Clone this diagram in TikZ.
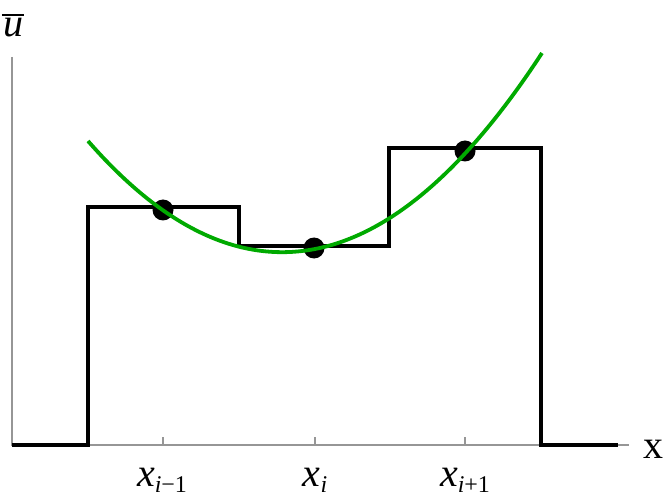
\documentclass[tikz,border=0pt]{standalone}
\usepackage{fontspec}
\setmainfont{Liberation Serif}
\newcommand{\lbsub}[1]{\raisebox{-6pt}{\fontsize{24}{24}\selectfont #1}}
\definecolor{curvegreen}{RGB}{0,170,0}
\definecolor{axisgray}{RGB}{150,150,150}
\begin{document}
\begin{tikzpicture}[x=1pt,y=-1pt,
  axisline/.style={draw=axisgray,line width=1.1pt},
  stepline/.style={draw=black,line width=3.6pt,line join=miter},
  fitcurve/.style={draw=curvegreen,line width=3.8pt},
  cellavg/.style={fill=black},
  lbl/.style={inner sep=0pt,anchor=base,font=\fontsize{40}{40}\selectfont}]
\useasboundingbox (0,0) rectangle (664,497);
% axes
\draw[axisline] (12,57) -- (12,445) -- (629,445);
\foreach \t in {163,315,465} \draw[axisline] (\t,445) -- (\t,437);
% step function
\draw[stepline] (12,445) -- (88,445) -- (88,207) -- (239,207) -- (239,246)
  -- (389,246) -- (389,148) -- (541,148) -- (541,445) -- (618,445);
% cell-average points
\fill[cellavg] (163,210) circle (10.5pt);
\fill[cellavg] (314,248) circle (10.5pt);
\fill[cellavg] (465,151) circle (10.5pt);
% reconstruction parabola
\draw[fitcurve] plot[domain=-2.27:2.27,samples=80,smooth]
  ({315+100*\x},{249-19.38*\x-29.5*\x*\x});
% labels
\node[lbl] (ubar) at (13,37) {\textit{u}};
\draw[line width=1.6pt] ([xshift=-1pt]ubar.north west |- 0,15) -- ([xshift=1pt]ubar.north east |- 0,15);
\node[lbl] (xlab) at (653,458) {x};
\node[lbl] (xim) at (162,486) {\textit{x}\lbsub{\textit{i}−1}};
\node[lbl] (xi) at (315,486) {\textit{x}\lbsub{\textit{i}}};
\node[lbl] (xip) at (465,486) {\textit{x}\lbsub{\textit{i}+1}};
\end{tikzpicture}
\end{document}
